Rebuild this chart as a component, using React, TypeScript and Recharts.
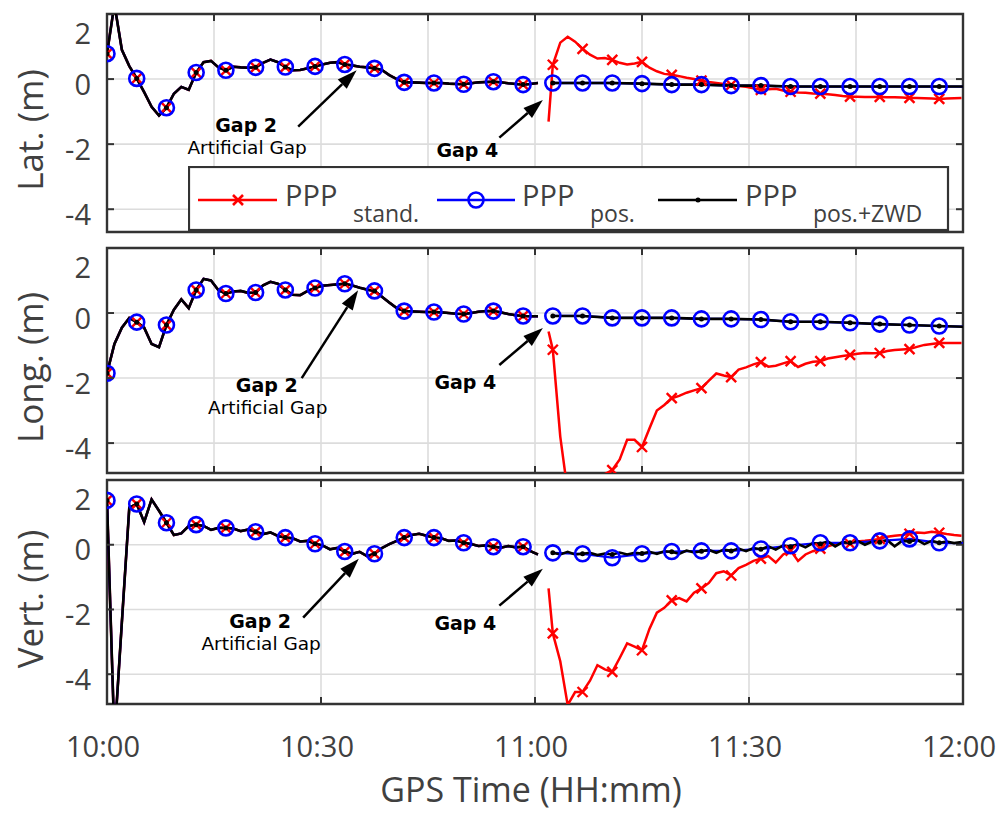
import React from 'react';
import { LineChart, Line, XAxis, YAxis, CartesianGrid, ReferenceLine, ReferenceArea } from 'recharts';

const RED = '#ff0000';
const BLUE = '#0000ff';
const BLACK = '#000000';
const FRAME = '#333333';
const GRID = '#dcdcdc';
const TEXT = '#404040';
const FONT = '"Open Sans", "DejaVu Sans", sans-serif';
const NOTE_FONT = '"DejaVu Sans", sans-serif';

// one sample every 62.5 s, a marker on every 4th sample (250 s)
const STEP = 125 / 120;
const MARK_EVERY = 4;
const AFTER_START = 60; // first sample index after Gap 4
const STAND_RESTART = 61.9; // minute where PPP stand. comes back after Gap 4
const END_T = 120;

const xTicksFine = [0, 15, 30, 45, 60, 75, 90, 105, 120];
const xTicksCoarse = [0, 30, 60, 90, 120];
const xTickLabels: Record<number, string> = { 0: '10:00', 30: '10:30', 60: '11:00', 90: '11:30', 120: '12:00' };
const yTicks = [-4, -2, 0, 2];

// --- Lat. : before Gap 4 all three solutions coincide
const latBefore = [0.78, 2.3, 0.9, 0.4, 0.02, -0.4, -0.85, -1.12, -0.88, -0.45, -0.24, -0.33, 0.2, 0.52, 0.56, 0.36, 0.27, 0.38, 0.36, 0.35, 0.36, 0.5, 0.6, 0.52, 0.37, 0.27, 0.28, 0.33, 0.39, 0.45, 0.5, 0.52, 0.45, 0.42, 0.38, 0.36, 0.33, 0.28, 0.12, 0.0, -0.1, -0.1, -0.11, -0.12, -0.12, -0.12, -0.14, -0.15, -0.16, -0.13, -0.1, -0.09, -0.08, -0.1, -0.13, -0.15, -0.17, -0.15, -0.12];
// first value is the restart point, then one value per sample from index 60
const latStandAfter = [-1.31, 0.44, 1.12, 1.3, 1.15, 0.93, 0.75, 0.63, 0.65, 0.59, 0.5, 0.45, 0.48, 0.53, 0.35, 0.24, 0.16, 0.13, 0.09, 0.04, 0.0, -0.05, -0.09, -0.12, -0.15, -0.18, -0.21, -0.24, -0.28, -0.33, -0.31, -0.3, -0.35, -0.39, -0.41, -0.42, -0.44, -0.45, -0.47, -0.49, -0.52, -0.54, -0.54, -0.55, -0.55, -0.55, -0.56, -0.56, -0.57, -0.58, -0.58, -0.59, -0.6, -0.61, -0.6, -0.59, -0.58];
// one value per marker after the gap, last one at 12:00
const latPosAfter = [-0.12, -0.12, -0.12, -0.14, -0.17, -0.17, -0.2, -0.2, -0.23, -0.23, -0.23, -0.23, -0.23, -0.23, -0.23];

// --- Long.
const lonBefore = [-1.85, -0.95, -0.45, -0.15, -0.28, -0.45, -0.95, -1.05, -0.37, 0.1, 0.42, 0.15, 0.71, 1.05, 1.0, 0.7, 0.6, 0.66, 0.68, 0.62, 0.63, 0.85, 0.96, 0.9, 0.71, 0.56, 0.55, 0.68, 0.77, 0.84, 0.86, 0.88, 0.9, 0.85, 0.78, 0.72, 0.68, 0.5, 0.32, 0.15, 0.06, 0.05, 0.04, 0.03, 0.03, 0.02, 0.0, -0.02, -0.03, 0.0, 0.04, 0.06, 0.06, 0.02, -0.03, -0.07, -0.09, -0.1, -0.1];
const lonStandAfter = [-0.57, -1.13, -3.8, -5.5, -6.2, -6.0, -5.6, -5.1, -4.95, -4.83, -4.5, -3.9, -3.9, -4.12, -3.55, -3.0, -2.83, -2.62, -2.55, -2.45, -2.38, -2.31, -2.08, -1.86, -1.92, -1.97, -1.74, -1.67, -1.58, -1.51, -1.65, -1.62, -1.55, -1.48, -1.66, -1.56, -1.5, -1.48, -1.4, -1.36, -1.32, -1.29, -1.25, -1.23, -1.24, -1.23, -1.17, -1.14, -1.12, -1.11, -1.04, -0.98, -0.95, -0.92, -0.92, -0.92, -0.92];
const lonPosAfter = [-0.09, -0.09, -0.15, -0.15, -0.15, -0.18, -0.18, -0.2, -0.27, -0.27, -0.3, -0.34, -0.37, -0.4, -0.42];

// --- Vert.
const vertBefore = [1.37, -6, -2.4, 1.15, 1.26, 0.7, 1.4, 1.05, 0.68, 0.3, 0.35, 0.58, 0.62, 0.58, 0.46, 0.52, 0.52, 0.5, 0.42, 0.47, 0.4, 0.33, 0.38, 0.27, 0.22, 0.2, 0.1, 0.12, 0.03, -0.02, -0.14, -0.1, -0.21, -0.28, -0.22, -0.35, -0.28, -0.1, 0.02, 0.12, 0.22, 0.3, 0.34, 0.28, 0.22, 0.2, 0.12, 0.13, 0.06, 0.02, -0.04, -0.02, -0.06, -0.09, -0.04, -0.08, -0.06, -0.2, -0.3];
const vertStandAfter = [-1.35, -2.74, -3.6, -4.95, -4.55, -4.55, -4.2, -3.72, -3.85, -3.93, -3.5, -3.05, -3.15, -3.26, -2.6, -2.1, -1.95, -1.72, -1.65, -1.75, -1.48, -1.35, -1.18, -0.88, -0.82, -0.95, -0.72, -0.62, -0.5, -0.43, -0.35, -0.55, -0.3, -0.18, -0.5, -0.3, -0.2, -0.12, -0.05, 0.02, 0.06, 0.03, 0.1, 0.12, 0.15, 0.18, 0.25, 0.28, 0.3, 0.34, 0.38, 0.36, 0.4, 0.37, 0.33, 0.3, 0.28];
const vertPosAfter = [-0.25, -0.28, -0.4, -0.28, -0.21, -0.19, -0.19, -0.13, -0.03, 0.06, 0.06, 0.12, 0.18, 0.06, 0.05];
const vertZwdAfter = [-0.25, -0.3, -0.22, -0.3, -0.28, -0.25, -0.32, -0.27, -0.3, -0.24, -0.3, -0.25, -0.27, -0.22, -0.28, -0.2, -0.22, -0.28, -0.18, -0.24, -0.2, -0.16, -0.25, -0.15, -0.19, -0.12, -0.2, -0.1, -0.14, -0.05, -0.15, -0.02, -0.06, 0.02, -0.08, 0.05, 0.02, 0.1, -0.05, 0.08, 0.06, 0.12, 0.0, 0.1, 0.08, 0.14, -0.05, 0.12, 0.1, 0.15, 0.02, 0.12, 0.06, 0.1, 0.05, 0.08];

type Pt = { t: number; v: number | null; mark?: boolean };

const dense = (vals: number[], first: number): Pt[] =>
  vals.map((v, j) => ({ t: (first + j) * STEP, v, mark: (first + j) % MARK_EVERY === 0 }));
const restart = (vals: number[]): Pt[] => [
  { t: STAND_RESTART, v: vals[0], mark: false },
  ...dense(vals.slice(1), AFTER_START),
];
const sparse = (vals: number[]): Pt[] =>
  vals.map((v, j) =>
    j < vals.length - 1
      ? { t: (AFTER_START + j * MARK_EVERY) * STEP, v, mark: true }
      : { t: END_T, v, mark: false }
  );
const gapPt: Pt = { t: 61, v: null };

// arrow from tail (x1,y1) to head (x2,y2) in data units; text centre offset from the tail in px
type Note = { x1: number; y1: number; x2: number; y2: number; dx: number; dy: number; sub?: string };

const panels = [
  {
    title: 'Lat. (m)', top: 0, height: 240, mTop: 14, mBottom: 7, xAxisH: 1, domain: [-4.7, 2], xTicks: xTicksFine,
    stand: [...dense(latBefore, 0), gapPt, ...restart(latStandAfter)],
    pos: [...dense(latBefore, 0), gapPt, ...sparse(latPosAfter)],
    zwd: [...dense(latBefore, 0), gapPt, ...sparse(latPosAfter)],
    notes: [
      { x1: 26.8, y1: -1.46, x2: 35.0, y2: 0.27, dx: -52, dy: -2, sub: 'Artificial Gap' },
      { x1: 55.0, y1: -1.8, x2: 61.1, y2: -0.64, dx: -32, dy: 12 },
    ] as Note[],
  },
  {
    title: 'Long. (m)', top: 240, height: 240, mTop: 8, mBottom: 6, xAxisH: 1, domain: [-4.92, 2], xTicks: xTicksFine,
    stand: [...dense(lonBefore, 0), gapPt, ...restart(lonStandAfter)],
    pos: [...dense(lonBefore, 0), gapPt, ...sparse(lonPosAfter)],
    zwd: [...dense(lonBefore, 0), gapPt, ...sparse(lonPosAfter)],
    notes: [
      { x1: 27.3, y1: -2.0, x2: 35.2, y2: 0.7, dx: -35, dy: 7, sub: 'Artificial Gap' },
      { x1: 55.0, y1: -1.6, x2: 61.1, y2: -0.46, dx: -34, dy: 17 },
    ] as Note[],
  },
  {
    title: 'Vert. (m)', top: 474, height: 340, mTop: 6, mBottom: 0, xAxisH: 110, domain: [-4.92, 2], xTicks: xTicksCoarse,
    stand: [...dense(vertBefore, 0), gapPt, ...restart(vertStandAfter)],
    pos: [...dense(vertBefore, 0), gapPt, ...sparse(vertPosAfter)],
    zwd: [...dense(vertBefore, 0), gapPt, ...dense(vertZwdAfter, AFTER_START)],
    notes: [
      { x1: 27.5, y1: -2.25, x2: 35.3, y2: -0.43, dx: -43, dy: 3, sub: 'Artificial Gap' },
      { x1: 55.0, y1: -1.88, x2: 61.1, y2: -0.74, dx: -34, dy: 17 },
    ] as Note[],
  },
];
const noteTitles = ['Gap 2', 'Gap 4'];

const PLOT_W = 856;

const XTick = (props: any) => {
  const { x, y, payload, plotHeight, showLabel } = props;
  const label = xTickLabels[payload.value];
  return (
    <g>
      <line x1={x} x2={x} y1={y} y2={y - 7} stroke={FRAME} strokeWidth={2} />
      <line x1={x} x2={x} y1={y - plotHeight} y2={y - plotHeight + 7} stroke={FRAME} strokeWidth={2} />
      {showLabel && label && (
        <text x={x - 4} y={y + 53} textAnchor="middle" fill={TEXT} fontSize={29} fontFamily={FONT}>
          {label}
        </text>
      )}
    </g>
  );
};

const YTick = (props: any) => {
  const { x, y, payload } = props;
  const dy = payload.value === 2 ? 18 : 4;
  return (
    <g>
      <line x1={x} x2={x + 7} y1={y} y2={y} stroke={FRAME} strokeWidth={2} />
      <line x1={x + PLOT_W} x2={x + PLOT_W - 7} y1={y} y2={y} stroke={FRAME} strokeWidth={2} />
      <text x={x - 16} y={y + dy} textAnchor="end" dominantBaseline="central" fill={TEXT} fontSize={29} fontFamily={FONT}>
        {payload.value}
      </text>
    </g>
  );
};

const ArrowNote = (props: any) => {
  const { x1, y1, x2, y2, title, sub, dx, dy } = props;
  const ang = Math.atan2(y2 - y1, x2 - x1);
  const len = 20;
  const half = 6.5;
  const bx = x2 - len * Math.cos(ang);
  const by = y2 - len * Math.sin(ang);
  const head = `${x2},${y2} ${bx + half * Math.sin(ang)},${by - half * Math.cos(ang)} ${bx - half * Math.sin(ang)},${by + half * Math.cos(ang)}`;
  const tx = x1 + dx;
  return (
    <g>
      <line x1={x1} y1={y1} x2={bx} y2={by} stroke={BLACK} strokeWidth={2.5} />
      <polygon points={head} fill={BLACK} />
      <text x={tx} y={y1 + dy + 7} textAnchor="middle" fontFamily={NOTE_FONT} fill={BLACK} fontSize={19} fontWeight={700}>
        {title}
      </text>
      {sub && (
        <text x={tx + 1} y={y1 + dy + 29} textAnchor="middle" fontFamily={NOTE_FONT} fill={BLACK} fontSize={18.5}>
          {sub}
        </text>
      )}
    </g>
  );
};

const crossDot = (p: any) =>
  p.payload && p.payload.mark ? (
    <path key={`x-${p.index}`} d={`M${p.cx - 5},${p.cy - 5}L${p.cx + 5},${p.cy + 5}M${p.cx - 5},${p.cy + 5}L${p.cx + 5},${p.cy - 5}`} stroke={RED} strokeWidth={2.4} fill="none" />
  ) : (
    <g key={`x-${p.index}`} />
  );
const circleDot = (p: any) =>
  p.payload && p.payload.mark ? (
    <circle key={`o-${p.index}`} cx={p.cx} cy={p.cy} r={7.5} stroke={BLUE} strokeWidth={2.6} fill="none" />
  ) : (
    <g key={`o-${p.index}`} />
  );
const pointDot = (p: any) =>
  p.payload && p.payload.mark ? (
    <circle key={`d-${p.index}`} cx={p.cx} cy={p.cy} r={2.5} fill={BLACK} />
  ) : (
    <g key={`d-${p.index}`} />
  );

const Panel = ({ p, last }: { p: (typeof panels)[number]; last: boolean }) => {
  const plotH = p.height - p.mTop - p.mBottom - p.xAxisH;
  const titleY = p.mTop + plotH / 2 + 7;
  return (
    <div style={{ position: 'absolute', left: 0, top: p.top }}>
      <LineChart width={1008} height={p.height} margin={{ top: p.mTop, right: 45, bottom: p.mBottom, left: 0 }}>
        <CartesianGrid stroke={GRID} strokeWidth={1.6} />
        <XAxis
          dataKey="t"
          type="number"
          domain={[0, 120]}
          ticks={p.xTicks}
          interval={0}
          allowDataOverflow
          height={p.xAxisH}
          axisLine={false}
          tickLine={false}
          tickSize={0}
          tickMargin={0}
          tick={<XTick plotHeight={plotH} showLabel={last} />}
          label={
            last
              ? () => (
                  <text x={531} y={328} textAnchor="middle" fill={TEXT} fontSize={34} fontFamily={FONT}>
                    GPS Time (HH:mm)
                  </text>
                )
              : undefined
          }
        />
        <YAxis
          type="number"
          domain={p.domain}
          ticks={yTicks}
          interval={0}
          allowDataOverflow
          width={107}
          axisLine={false}
          tickLine={false}
          tickSize={0}
          tickMargin={0}
          tick={<YTick />}
          label={() => (
            <text x={29} y={titleY} transform={`rotate(-90 29 ${titleY})`} textAnchor="middle" dominantBaseline="central" fill={TEXT} fontSize={35} fontFamily={FONT}>
              {p.title}
            </text>
          )}
        />
        <Line data={p.stand} dataKey="v" type="linear" stroke={RED} strokeWidth={2.5} dot={crossDot} activeDot={false} isAnimationActive={false} />
        <Line data={p.pos} dataKey="v" type="linear" stroke={BLUE} strokeWidth={2.3} dot={circleDot} activeDot={false} isAnimationActive={false} />
        <Line data={p.zwd} dataKey="v" type="linear" stroke={BLACK} strokeWidth={2.6} dot={pointDot} activeDot={false} isAnimationActive={false} />
        {p.notes.map((n, i) => (
          <ReferenceLine
            key={`note-${i}`}
            segment={[{ x: n.x1, y: n.y1 }, { x: n.x2, y: n.y2 }]}
            shape={(sp: any) => <ArrowNote {...sp} title={noteTitles[i]} sub={n.sub} dx={n.dx} dy={n.dy} />}
          />
        ))}
        <ReferenceArea x1={0} x2={120} y1={p.domain[0]} y2={p.domain[1]} fill="none" fillOpacity={0} stroke={FRAME} strokeWidth={2.4} strokeOpacity={1} />
      </LineChart>
    </div>
  );
};

const LegendBox = () => (
  <svg width={762} height={66} style={{ position: 'absolute', left: 188, top: 166 }}>
    <rect x={1} y={1} width={759} height={63} fill="#ffffff" stroke={FRAME} strokeWidth={2.2} />
    <g fontFamily={FONT} fill={TEXT}>
      <line x1={10} x2={89} y1={34} y2={34} stroke={RED} strokeWidth={2.5} />
      <path d="M45,29L55,39M45,39L55,29" stroke={RED} strokeWidth={2.6} />
      <text x={97} y={40} fontSize={29}>PPP</text>
      <text x={165} y={56} fontSize={23}>stand.</text>

      <line x1={249} x2={327} y1={34} y2={34} stroke={BLUE} strokeWidth={2.5} />
      <circle cx={288} cy={34} r={7.5} stroke={BLUE} strokeWidth={2.6} fill="none" />
      <text x={334} y={40} fontSize={29}>PPP</text>
      <text x={402} y={56} fontSize={23}>pos.</text>

      <line x1={470} x2={549} y1={34} y2={34} stroke={BLACK} strokeWidth={2.6} />
      <circle cx={510} cy={34} r={2.5} fill={BLACK} />
      <text x={557} y={40} fontSize={29}>PPP</text>
      <text x={625} y={56} fontSize={23}>pos.+ZWD</text>
    </g>
  </svg>
);

export default function App() {
  return (
    <div style={{ position: 'absolute', left: 0, top: 0, width: 1008, height: 814, background: '#ffffff', overflow: 'hidden' }}>
      {panels.map((p, i) => (
        <Panel key={p.title} p={p} last={i === panels.length - 1} />
      ))}
      <LegendBox />
    </div>
  );
}
